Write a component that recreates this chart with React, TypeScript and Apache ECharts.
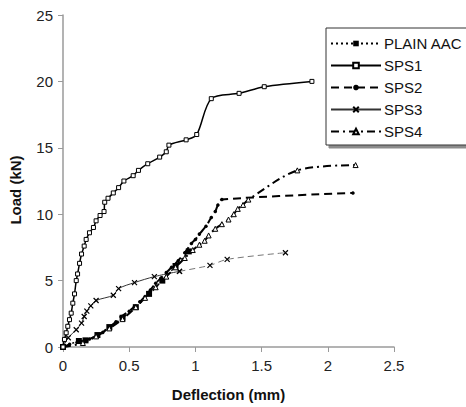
import React, { useEffect, useRef } from "react";
import * as echarts from "echarts";

const seriesNames = ["PLAIN AAC", "SPS1", "SPS2", "SPS3", "SPS4"];
const xTicks = [0, 0.5, 1, 1.5, 2, 2.5];
const yTicks = [0, 5, 10, 15, 20, 25];

const plainAAC: number[][] = [
  [0, 0], [0.12, 0.45], [0.17, 0.5], [0.26, 0.9], [0.35, 1.5], [0.45, 2.2],
  [0.55, 3.0], [0.65, 4.0], [0.75, 5.0], [0.85, 6.1], [0.95, 7.2],
];
const sps1: number[][] = [
  [0, 0], [0.011, 0.57], [0.024, 1.07], [0.036, 1.56], [0.049, 2.06], [0.062, 2.55],
  [0.074, 3.3], [0.087, 4.0], [0.1, 5.0], [0.11, 5.5], [0.125, 6.3], [0.14, 7.0],
  [0.16, 7.6], [0.175, 8.1], [0.2, 8.6], [0.23, 9.0], [0.25, 9.5], [0.28, 9.9],
  [0.31, 10.2], [0.315, 10.9], [0.34, 11.2], [0.38, 11.6], [0.42, 12.0], [0.46, 12.5],
  [0.53, 12.9], [0.57, 13.3], [0.64, 13.8], [0.73, 14.3], [0.78, 14.7], [0.8, 15.2],
  [0.93, 15.6], [1.01, 16.0], [1.12, 18.7], [1.33, 19.1], [1.52, 19.6], [1.88, 20.0],
];
const sps2: number[][] = [
  [0, 0], [0.05, 0.2], [0.12, 0.4], [0.2, 0.6], [0.26, 0.9], [0.3, 1.1], [0.35, 1.5],
  [0.4, 1.9], [0.44, 2.3], [0.5, 2.7], [0.54, 3.05], [0.58, 3.4], [0.62, 3.8],
  [0.66, 4.3], [0.7, 4.8], [0.74, 5.2], [0.78, 5.6], [0.82, 6.0], [0.87, 6.5],
  [0.92, 7.1], [0.97, 7.8], [1.0, 8.1], [1.03, 8.5], [1.08, 9.1], [1.12, 9.75],
  [1.15, 10.2], [1.17, 10.7], [1.2, 11.1], [2.19, 11.6],
];
const sps3Solid: number[][] = [
  [0, 0], [0.04, 0.7], [0.1, 1.3], [0.14, 1.8], [0.16, 2.3], [0.18, 2.7], [0.21, 3.1],
  [0.25, 3.5], [0.38, 3.9], [0.42, 4.4], [0.54, 4.85], [0.69, 5.3], [0.88, 5.7],
];
const sps3Dashed: number[][] = [
  [0.88, 5.7], [1.11, 6.15], [1.24, 6.6], [1.68, 7.1],
];
const sps4: number[][] = [
  [0, 0], [0.15, 0.3], [0.25, 0.8], [0.35, 1.4], [0.45, 2.1], [0.55, 3.0], [0.62, 3.7],
  [0.7, 4.5], [0.78, 5.3], [0.85, 6.0], [0.92, 6.7], [0.98, 7.3], [1.03, 7.7],
  [1.07, 8.0], [1.1, 8.4], [1.15, 8.9], [1.2, 9.25], [1.25, 9.6], [1.29, 10.0],
  [1.32, 10.4], [1.36, 10.7], [1.4, 11.1], [1.77, 13.3], [2.21, 13.7],
];

const FONT = "'Liberation Sans', Arial, sans-serif";
const X_SYMBOL = "path://M0,0L10,10M10,0L0,10";

export default function App() {
  const ref = useRef<HTMLDivElement>(null);
  useEffect(() => {
    if (!ref.current) return;
    const chart = echarts.init(ref.current, null, { renderer: "svg" });
    chart.setOption({
      animation: false,
      backgroundColor: "#fff",
      grid: { left: 63, right: 72, top: 15, bottom: 56, containLabel: false },
      xAxis: {
        type: "value",
        min: xTicks[0],
        max: xTicks[xTicks.length - 1],
        interval: 0.5,
        name: "Deflection (mm)",
        nameLocation: "middle",
        nameGap: 40,
        nameTextStyle: { fontFamily: FONT, fontSize: 15, fontWeight: "bold", color: "#111" },
        axisLine: { lineStyle: { color: "#9a9a9a", width: 1.5 } },
        axisTick: { show: true, inside: false, length: 5, lineStyle: { color: "#9a9a9a" } },
        axisLabel: { fontFamily: FONT, fontSize: 15, color: "#222", margin: 11 },
        splitLine: { show: false },
      },
      yAxis: {
        type: "value",
        min: yTicks[0],
        max: yTicks[yTicks.length - 1],
        interval: 5,
        axisLine: { show: true, lineStyle: { color: "#9a9a9a", width: 1.5 } },
        axisTick: { show: true, inside: false, length: 5, lineStyle: { color: "#9a9a9a" } },
        axisLabel: { fontFamily: FONT, fontSize: 15, color: "#222", margin: 10 },
        splitLine: { show: false },
      },
      graphic: [
        {
          type: "text",
          x: 15,
          y: 190,
          rotation: Math.PI / 2,
          style: {
            text: "Load (kN)",
            font: `bold 15px ${FONT}`,
            fill: "#111",
            align: "center",
            verticalAlign: "middle",
          },
        },
      ],
      legend: {
        data: seriesNames,
        orient: "vertical",
        left: 326,
        top: 28,
        itemWidth: 50,
        itemHeight: 7,
        itemGap: 7,
        padding: [8, 20, 6, 4],
        backgroundColor: "#fff",
        borderColor: "#333",
        borderWidth: 1,
        shadowColor: "rgba(0,0,0,0.45)",
        shadowOffsetX: 3,
        shadowOffsetY: 3,
        shadowBlur: 0,
        textStyle: { fontFamily: FONT, fontSize: 15, color: "#111", padding: [0, 0, 0, -2] },
      },
      series: [
        {
          name: "PLAIN AAC",
          type: "line",
          data: plainAAC,
          smooth: 0.3,
          symbol: "rect",
          symbolSize: 6,
          itemStyle: { color: "#000" },
          lineStyle: { color: "#000", width: 1.5, type: [2, 3] },
          z: 2,
        },
        {
          name: "SPS1",
          type: "line",
          data: sps1,
          smooth: 0.3,
          symbol: "rect",
          symbolSize: 4,
          itemStyle: { color: "#fff", borderColor: "#000", borderWidth: 1 },
          lineStyle: { color: "#000", width: 1.5, type: "solid" },
          z: 5,
        },
        {
          name: "SPS2",
          type: "line",
          data: sps2,
          smooth: 0.3,
          symbol: "circle",
          symbolSize: 3.5,
          itemStyle: { color: "#000" },
          lineStyle: { color: "#000", width: 2, type: [8, 5] },
          z: 4,
        },
        {
          name: "SPS3",
          type: "line",
          data: sps3Solid,
          smooth: 0.3,
          symbol: X_SYMBOL,
          symbolSize: 5,
          itemStyle: { color: "#000", borderColor: "#000", borderWidth: 1.2 },
          lineStyle: { color: "#333", width: 1, type: "solid" },
          z: 3,
        },
        {
          name: "SPS3 tail",
          type: "line",
          data: sps3Dashed,
          smooth: 0.3,
          symbol: X_SYMBOL,
          symbolSize: 5,
          itemStyle: { color: "#000", borderColor: "#000", borderWidth: 1.2 },
          lineStyle: { color: "#777", width: 1, type: [6, 4] },
          z: 3,
        },
        {
          name: "SPS4",
          type: "line",
          data: sps4,
          smooth: 0.3,
          symbol: "triangle",
          symbolSize: 5,
          itemStyle: { color: "#fff", borderColor: "#000", borderWidth: 1 },
          lineStyle: { color: "#000", width: 2, type: [8, 4, 2, 4] },
          z: 4,
        },
      ],
    });
    return () => chart.dispose();
  }, []);
  return <div ref={ref} style={{ width: 466, height: 407, position: "absolute", left: 0, top: 0 }} />;
}
